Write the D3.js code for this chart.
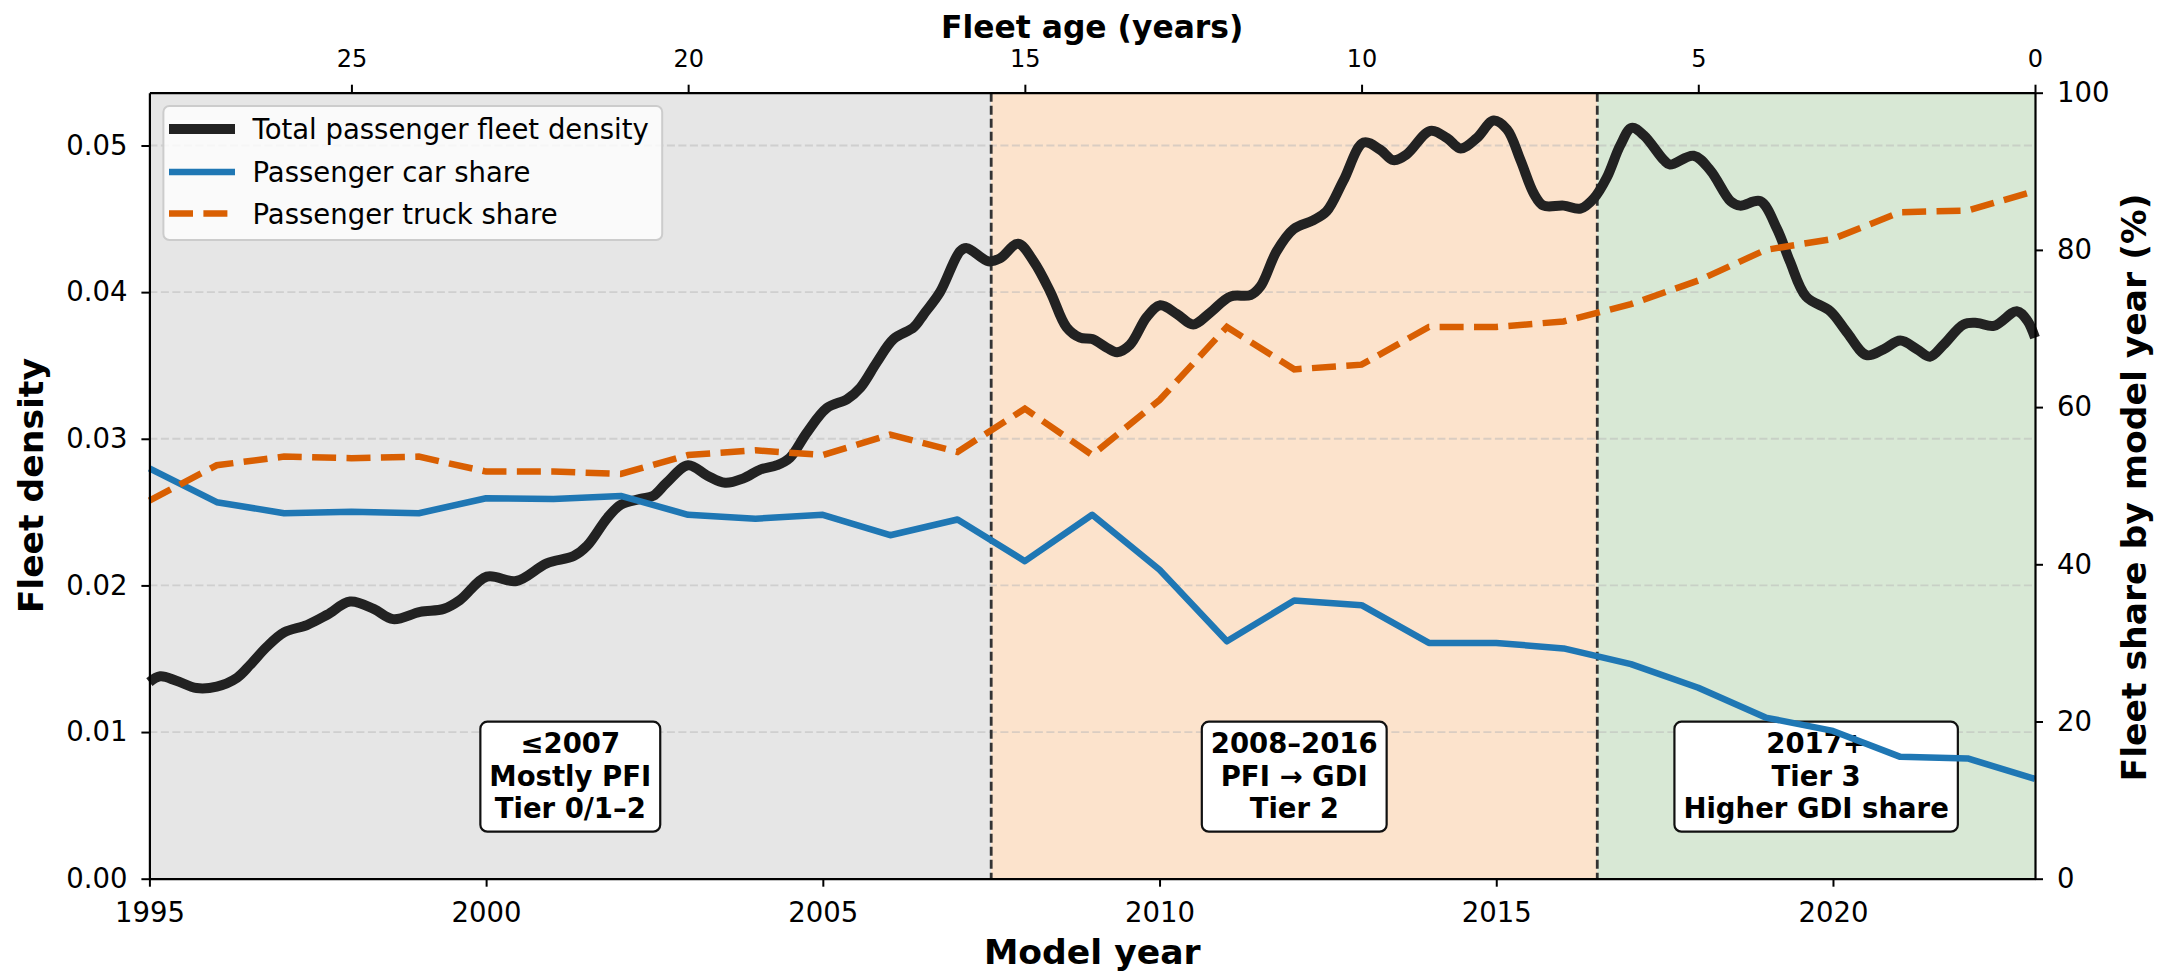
<!DOCTYPE html>
<html>
<head>
<meta charset="utf-8">
<script src="https://cdn.jsdelivr.net/npm/d3@7"></script>
<style>
  body { margin: 0; background: #fff; }
  text { font-family: "DejaVu Sans", sans-serif; }
</style>
</head>
<body>
<svg id="chart" width="2169" height="974"></svg>
<script>
// model years and the two share series (right axis, %)
var years = [1995, 1996, 1997, 1998, 1999, 2000, 2001, 2002, 2003, 2004, 2005, 2006, 2007, 2008, 2009,
             2010, 2011, 2012, 2013, 2014, 2015, 2016, 2017, 2018, 2019, 2020, 2021, 2022, 2023];
var carShare = [52.2, 47.9, 46.5, 46.7, 46.5, 48.4, 48.3, 48.7, 46.3, 45.8, 46.3, 43.7, 45.7, 40.4, 46.3,
                39.3, 30.2, 35.4, 34.8, 30.0, 30.0, 29.3, 27.3, 24.3, 20.5, 18.8, 15.5, 15.3, 12.7];
var truckShare = [48.1, 52.6, 53.7, 53.5, 53.7, 51.8, 51.8, 51.5, 53.9, 54.5, 53.9, 56.5, 54.3, 59.8, 53.9,
                  60.9, 70.2, 64.8, 65.4, 70.2, 70.2, 70.9, 73.1, 76.1, 80.0, 81.4, 84.8, 85.0, 87.5];

// total fleet density (left axis)
var densityYears = [1995.00, 1995.16, 1995.40, 1995.70, 1996.00, 1996.30, 1996.50, 1996.74, 1997.00, 1997.34,
                    1997.64, 1997.98, 1998.33, 1998.62, 1999.02, 1999.37, 1999.61, 2000.01, 2000.45, 2000.90,
                    2001.30, 2001.50, 2001.80, 2002.00, 2002.29, 2002.48, 2002.68, 2003.00, 2003.28, 2003.55,
                    2003.82, 2004.07, 2004.32, 2004.51, 2004.76, 2005.06, 2005.36, 2005.56, 2005.80, 2006.05,
                    2006.35, 2006.50, 2006.74, 2007.04, 2007.14, 2007.46, 2007.63, 2007.90, 2008.13, 2008.38,
                    2008.62, 2008.82, 2009.00, 2009.22, 2009.37, 2009.56, 2009.81, 2010.01, 2010.26, 2010.50,
                    2010.75, 2011.05, 2011.35, 2011.50, 2011.74, 2011.99, 2012.28, 2012.48, 2012.73, 2013.03,
                    2013.28, 2013.47, 2013.67, 2014.02, 2014.27, 2014.47, 2014.71, 2014.96, 2015.16, 2015.36,
                    2015.56, 2015.70, 2016.00, 2016.25, 2016.45, 2016.64, 2016.84, 2017.01, 2017.19, 2017.49,
                    2017.58, 2017.93, 2018.18, 2018.48, 2018.62, 2018.92, 2019.17, 2019.36, 2019.60, 2019.96,
                    2020.20, 2020.50, 2020.75, 2021.00, 2021.25, 2021.44, 2021.64, 2021.94, 2022.14, 2022.39,
                    2022.73, 2022.88, 2023.00];
var densityValues = [0.0134, 0.0138, 0.0135, 0.0130, 0.0131, 0.0137, 0.0146, 0.0158, 0.0168, 0.0173,
                     0.0180, 0.0189, 0.0184, 0.0177, 0.0182, 0.0184, 0.0190, 0.0206, 0.0203, 0.0215,
                     0.0220, 0.0227, 0.0246, 0.0255, 0.0259, 0.0261, 0.0270, 0.0282, 0.0275, 0.0270,
                     0.0273, 0.0279, 0.0282, 0.0287, 0.0304, 0.0321, 0.0327, 0.0335, 0.0352, 0.0368,
                     0.0376, 0.0385, 0.0400, 0.0428, 0.0430, 0.0421, 0.0423, 0.0433, 0.0421, 0.0400,
                     0.0376, 0.0369, 0.0368, 0.0362, 0.0359, 0.0364, 0.0383, 0.0391, 0.0385, 0.0378,
                     0.0386, 0.0397, 0.0398, 0.0404, 0.0428, 0.0443, 0.0449, 0.0455, 0.0476, 0.0502,
                     0.0497, 0.0490, 0.0494, 0.0510, 0.0505, 0.0498, 0.0505, 0.0517, 0.0511, 0.0490,
                     0.0467, 0.0459, 0.0459, 0.0457, 0.0464, 0.0478, 0.0500, 0.0512, 0.0507, 0.0490,
                     0.0487, 0.0493, 0.0483, 0.0462, 0.0459, 0.0462, 0.0443, 0.0421, 0.0397, 0.0387,
                     0.0373, 0.0357, 0.0361, 0.0367, 0.0361, 0.0356, 0.0364, 0.0378, 0.0379, 0.0377,
                     0.0387, 0.0381, 0.0369];

// ticks
var leftTicks = [0, 0.01, 0.02, 0.03, 0.04, 0.05];
var rightTicks = [0, 20, 40, 60, 80, 100];
var bottomTicks = [1995, 2000, 2005, 2010, 2015, 2020];
var ageTicks = [25, 20, 15, 10, 5, 0];

// technology eras
var eraStart = [1995, 2007.5, 2016.5];
var eraEnd = [2007.5, 2016.5, 2023];
var eraLabels = [
  ["\u22642007", "Mostly PFI", "Tier 0/1\u20132"],
  ["2008\u20132016", "PFI \u2192 GDI", "Tier 2"],
  ["2017+", "Tier 3", "Higher GDI share"]
];
var eraFill = ["#e6e6e6", "#fce3cc", "#d8e8d5"];

var L = 149.4, R = 2035, T = 92.7, B = 878.7;
var svg = d3.select("#chart");

var x = d3.scaleLinear().domain([1995, 2023]).range([L, R]);
var yL = d3.scaleLinear().domain([0, 0.0536]).range([B, T]);
var yR = d3.scaleLinear().domain([0, 100]).range([B, T]);
var age = d3.scaleLinear().domain([2023 - 1995, 0]).range([L, R]);

// shaded eras
svg.append("g").selectAll("rect")
    .data(eraStart).enter()
  .append("rect")
    .attr("x", function (d) { return x(d); })
    .attr("y", T)
    .attr("width", function (d, i) { return x(eraEnd[i]) - x(d); })
    .attr("height", B - T)
    .attr("fill", function (d, i) { return eraFill[i]; });

// horizontal grid
svg.append("g").selectAll("line")
    .data(leftTicks.slice(1)).enter()
  .append("line")
    .attr("x1", L).attr("x2", R)
    .attr("y1", function (d) { return yL(d); })
    .attr("y2", function (d) { return yL(d); })
    .attr("stroke", "#b8b8b8")
    .attr("stroke-opacity", 0.5)
    .attr("stroke-width", 1.8)
    .attr("stroke-dasharray", "8,3.5");

// era breaks
svg.append("g").selectAll("line")
    .data(eraStart.slice(1)).enter()
  .append("line")
    .attr("x1", function (d) { return x(d); })
    .attr("x2", function (d) { return x(d); })
    .attr("y1", T).attr("y2", B)
    .attr("stroke", "#333")
    .attr("stroke-width", 2.8)
    .attr("stroke-dasharray", "9,4");

// density curve
var densityLine = d3.line()
    .x(function (d, i) { return x(densityYears[i]); })
    .y(function (d) { return yL(d); })
    .curve(d3.curveCatmullRom.alpha(0.5));

svg.append("path")
    .attr("d", densityLine(densityValues))
    .attr("fill", "none")
    .attr("stroke", "#222")
    .attr("stroke-width", 10)
    .attr("stroke-linejoin", "round")
    .attr("stroke-linecap", "butt");

// era annotation boxes
var boxY = 776.7, lineGap = 32.5;
eraLabels.forEach(function (lines, i) {
  var cx = x((eraStart[i] + eraEnd[i]) / 2);
  var g = svg.append("g");
  var rect = g.append("rect");
  var maxW = 0;
  lines.forEach(function (s, k) {
    var t = g.append("text")
        .attr("x", cx)
        .attr("y", boxY - 23.7 + k * lineGap)
        .attr("text-anchor", "middle")
        .attr("font-size", "27.5px")
        .attr("font-weight", "bold")
        .text(s);
    maxW = Math.max(maxW, t.node().getComputedTextLength());
  });
  rect.attr("x", cx - maxW / 2 - 9)
      .attr("y", boxY - 55)
      .attr("width", maxW + 18)
      .attr("height", 110)
      .attr("rx", 7)
      .attr("fill", "#fff")
      .attr("stroke", "#111")
      .attr("stroke-width", 2.2);
});

// share lines on the right axis
var shareLine = d3.line()
    .x(function (d, i) { return x(years[i]); })
    .y(function (d) { return yR(d); });

svg.append("path")
    .attr("d", shareLine(carShare))
    .attr("fill", "none")
    .attr("stroke", "#1f77b4")
    .attr("stroke-width", 6.5)
    .attr("stroke-linejoin", "round");

svg.append("path")
    .attr("d", shareLine(truckShare))
    .attr("fill", "none")
    .attr("stroke", "#d95f02")
    .attr("stroke-width", 6.5)
    .attr("stroke-dasharray", "24,10.4");

// axes
function styleAxis(g, size) {
  g.select(".domain").attr("stroke", "#000").attr("stroke-width", 2.2);
  g.selectAll(".tick line").attr("stroke", "#000").attr("stroke-width", 2);
  g.selectAll(".tick text").attr("fill", "#000")
    .attr("font-size", size + "px")
    .attr("font-family", "DejaVu Sans");
}

svg.append("g")
    .attr("transform", "translate(" + L + ",0)")
    .call(d3.axisLeft(yL).tickValues(leftTicks).tickFormat(d3.format(".2f"))
          .tickSize(8).tickSizeOuter(0).tickPadding(14))
    .call(styleAxis, 27.5);

svg.append("g")
    .attr("transform", "translate(" + R + ",0)")
    .call(d3.axisRight(yR).tickValues(rightTicks).tickFormat(d3.format("d"))
          .tickSize(8).tickSizeOuter(0).tickPadding(14))
    .call(styleAxis, 27.5);

svg.append("g")
    .attr("transform", "translate(0," + B + ")")
    .call(d3.axisBottom(x).tickValues(bottomTicks).tickFormat(d3.format("d"))
          .tickSize(8).tickSizeOuter(0).tickPadding(16))
    .call(styleAxis, 27.5);

svg.append("g")
    .attr("transform", "translate(0," + T + ")")
    .call(d3.axisTop(age).tickValues(ageTicks).tickFormat(d3.format("d"))
          .tickSize(8).tickSizeOuter(0).tickPadding(18))
    .call(styleAxis, 24);

// axis titles
svg.append("text")
    .attr("x", (L + R) / 2).attr("y", 964)
    .attr("text-anchor", "middle")
    .attr("font-size", "34.6px").attr("font-weight", "bold")
    .text("Model year");

svg.append("text")
    .attr("x", (L + R) / 2).attr("y", 37.9)
    .attr("text-anchor", "middle")
    .attr("font-size", "31.4px").attr("font-weight", "bold")
    .text("Fleet age (years)");

svg.append("text")
    .attr("transform", "translate(42.7," + (T + B) / 2 + ") rotate(-90)")
    .attr("text-anchor", "middle")
    .attr("font-size", "34.6px").attr("font-weight", "bold")
    .text("Fleet density");

svg.append("text")
    .attr("transform", "translate(2146,487.5) rotate(-90)")
    .attr("text-anchor", "middle")
    .attr("font-size", "34.6px").attr("font-weight", "bold")
    .text("Fleet share by model year (%)");

// legend
var legendItems = ["Total passenger fleet density", "Passenger car share", "Passenger truck share"];
var legendColor = ["#222", "#1f77b4", "#d95f02"];
var legendWidth = [10, 6.5, 6.5];
var legendDash = [null, null, "24,10.4"];
var legendY = [129, 172, 213.5];

var lg = svg.append("g");
lg.append("rect")
    .attr("x", 163.4).attr("y", 106)
    .attr("width", 498.8).attr("height", 134)
    .attr("rx", 6)
    .attr("fill", "#fff").attr("fill-opacity", 0.8)
    .attr("stroke", "#ccc").attr("stroke-width", 2);

legendItems.forEach(function (s, i) {
  lg.append("line")
      .attr("x1", 169).attr("x2", 235)
      .attr("y1", legendY[i]).attr("y2", legendY[i])
      .attr("stroke", legendColor[i])
      .attr("stroke-width", legendWidth[i])
      .attr("stroke-dasharray", legendDash[i]);
  lg.append("text")
      .attr("x", 252.5).attr("y", legendY[i] + 10)
      .attr("font-size", "27.5px")
      .text(s);
});
</script>
</body>
</html>
